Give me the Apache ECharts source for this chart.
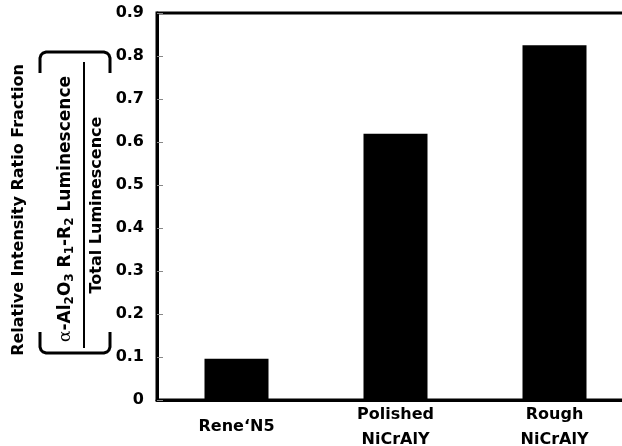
<!DOCTYPE html>
<html>
<head>
<meta charset="utf-8">
<script src="https://cdn.jsdelivr.net/npm/echarts@6/dist/echarts.min.js"></script>
<style>
    html, body { margin: 0; padding: 0; background: #fff; }
    #main { width: 622px; height: 446px; }
</style>
</head>
<body>
<div id="main"></div>
<script>
// data
var categories = ['Rene\u2018N5', 'Polished\nNiCrAlY', 'Rough\nNiCrAlY'];
var fractions = [0.096, 0.619, 0.825];
var yMin = 0;
var yMax = 0.9;
var yStep = 0.1;

var boldFont = 'bold 16px "DejaVu Sans"';

var myChart = echarts.init(document.getElementById("main"));
var option = {
    animation: false,
    grid: {
        left: 157,
        right: -12,
        top: 13,
        bottom: 46,
        outerBoundsMode: 'none',   // plot runs past the right edge in the figure
        show: true,
        borderColor: '#000',
        borderWidth: 3
    },
    xAxis: {
        type: 'category',
        data: categories,
        axisLine: { lineStyle: { color: '#000', width: 3 } },
        axisTick: {
            inside: true,
            length: 6,
            lineStyle: { color: '#888', width: 1 }
        },
        axisLabel: {
            color: '#000',
            fontFamily: 'DejaVu Sans',
            fontWeight: 'bold',
            fontSize: 16,
            lineHeight: 25,
            verticalAlign: 'middle',
            margin: 27
        }
    },
    yAxis: {
        type: 'value',
        min: yMin,
        max: yMax,
        interval: yStep,
        splitLine: { show: false },
        axisLine: { show: true, lineStyle: { color: '#000', width: 3 } },
        axisTick: {
            show: true,
            inside: true,
            length: 6,
            lineStyle: { color: '#888', width: 1 }
        },
        axisLabel: {
            color: '#000',
            fontFamily: 'DejaVu Sans',
            fontWeight: 'bold',
            fontSize: 16,
            margin: 13,
            formatter: function (v) {
                return v === 0 ? '0' : v.toFixed(1);
            }
        }
    },
    series: [{
        type: 'bar',
        data: fractions,
        barWidth: 64,
        itemStyle: { color: '#000' }
    }],
    // y axis title: label plus the bracketed fraction
    graphic: [
        {
            type: 'text',
            x: 19,
            y: 210,
            rotation: Math.PI / 2,
            style: {
                text: 'Relative Intensity Ratio Fraction',
                font: boldFont,
                fill: '#000',
                align: 'center',
                verticalAlign: 'middle'
            }
        },
        {
            type: 'text',
            x: 66,
            y: 209,
            rotation: Math.PI / 2,
            style: {
                text: '{g|\u03b1}-Al{s|2}O{s|3} R{s|1}-R{s|2} Luminescence',
                font: 'bold 17px "DejaVu Sans"',
                fill: '#000',
                align: 'center',
                verticalAlign: 'middle',
                rich: {
                    g: { font: '17px "DejaVu Serif"', fill: '#000' },
                    s: { font: 'bold 12px "DejaVu Sans"', fill: '#000', padding: [8, 0, 0, 0] }
                }
            }
        },
        {
            type: 'line',
            shape: { x1: 84, y1: 62, x2: 84, y2: 348 },
            style: { stroke: '#000', lineWidth: 2 }
        },
        {
            type: 'text',
            x: 97,
            y: 205,
            rotation: Math.PI / 2,
            style: {
                text: 'Total Luminescence',
                font: boldFont,
                fill: '#000',
                align: 'center',
                verticalAlign: 'middle'
            }
        },
        {
            type: 'polyline',
            shape: {
                points: [[40, 73], [40, 58], [41, 55], [43, 53], [46, 52],
                         [104, 52], [107, 53], [109, 55], [110, 58], [110, 73]]
            },
            style: { stroke: '#000', lineWidth: 3, fill: null }
        },
        {
            type: 'polyline',
            shape: {
                points: [[40, 332], [40, 347], [41, 350], [43, 352], [46, 353],
                         [104, 353], [107, 352], [109, 350], [110, 347], [110, 332]]
            },
            style: { stroke: '#000', lineWidth: 3, fill: null }
        }
    ]
};
if (option && typeof option === "object") {
    myChart.setOption(option, true);
}
</script>
</body>
</html>
